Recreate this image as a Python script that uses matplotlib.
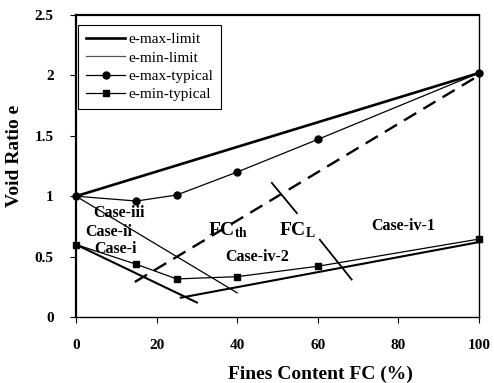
import matplotlib
matplotlib.use("Agg")
import matplotlib.pyplot as plt
from matplotlib.lines import Line2D

# ---- data ----
fc_typ = [0, 15, 25, 40, 60, 100]
emax_typ = [1.0, 0.96, 1.01, 1.20, 1.47, 2.02]
emin_typ = [0.60, 0.436, 0.315, 0.334, 0.42, 0.645]

fc_emax_limit = [0, 100]
emax_limit = [1.0, 2.02]

fc_emin_limit_iii = [0, 40]
emin_limit_iii = [1.0, 0.20]

fc_emin_limit_i = [0, 30]
emin_limit_i = [0.60, 0.12]

fc_emin_limit_iv = [26, 100]
emin_limit_iv = [0.16, 0.62]

fc_th_line = [14.6, 100]
e_th_line = [0.29, 2.0]

fc_cross1 = [48.6, 54.8]
e_cross1 = [1.11, 0.86]
fc_cross2 = [60.5, 68.4]
e_cross2 = [0.64, 0.31]

xticks = [0, 20, 40, 60, 80, 100]
yticks = [0, 0.5, 1, 1.5, 2, 2.5]
ytick_labels = ["0", "0.5", "1", "1.5", "2", "2.5"]

plt.rcParams['font.family'] = ['Liberation Serif', 'DejaVu Serif']
plt.rcParams['mathtext.fontset'] = 'custom'
plt.rcParams['mathtext.rm'] = 'Liberation Serif'
plt.rcParams['mathtext.bf'] = 'Liberation Serif:bold'
plt.rcParams['mathtext.it'] = 'Liberation Serif:italic'

fig = plt.figure(figsize=(4.94, 3.83), dpi=100)
ax = fig.add_axes([76/494, 1-317/383, (479-76)/494, (317-15)/383])

ax.plot(fc_emax_limit, emax_limit, color='black', lw=1.9, solid_capstyle='butt', clip_on=False)
ax.plot(fc_emin_limit_iii, emin_limit_iii, color='black', lw=0.9, clip_on=False)
ax.plot(fc_emin_limit_i, emin_limit_i, color='black', lw=1.5, clip_on=False)
ax.plot(fc_emin_limit_iv, emin_limit_iv, color='black', lw=1.5, clip_on=False)
ax.plot(fc_typ, emax_typ, color='black', lw=0.9, marker='o', ms=5, clip_on=False)
ax.plot(fc_typ, emin_typ, color='black', lw=0.9, marker='s', ms=4.5, clip_on=False)
ax.plot(fc_th_line, e_th_line, color='black', lw=1.7, dashes=(6, 3.5), clip_on=False)
ax.plot(fc_cross1, e_cross1, color='black', lw=1.3)
ax.plot(fc_cross2, e_cross2, color='black', lw=1.3)

tfont = dict(fontweight='bold', fontsize=11.5, ha='center', va='center')
ax.text(10.7, 0.86, 'Case-iii', **tfont)
ax.text(8.1, 0.70, 'Case-ii', **tfont)
ax.text(9.7, 0.56, 'Case-i', **tfont)
ax.text(45, 0.50, 'Case-iv-2', **tfont)
ax.text(81.3, 0.75, 'Case-iv-1', **tfont)
ax.text(37.8, 0.72, r'$\mathbf{FC_{th}}$', fontsize=14, ha='center', va='center')
ax.text(54.9, 0.72, r'$\mathbf{FC_{L}}$', fontsize=14, ha='center', va='center')

ax.set_xlim(0, 100)
ax.set_ylim(0, 2.5)
ax.set_xticks(xticks)
ax.set_yticks(yticks)
ax.set_yticklabels(ytick_labels)
ax.tick_params(direction='out', length=4, width=0.8)
ax.tick_params(axis='x', pad=12)
ax.tick_params(axis='y', pad=12)
for lab in ax.get_xticklabels() + ax.get_yticklabels():
    lab.set_fontweight('bold')
    lab.set_fontsize(11)

for s in ax.spines.values():
    s.set_linewidth(1.0)
ax.spines['left'].set_linewidth(1.6)
ax.spines['top'].set_linewidth(1.6)

ax.set_xlabel('Fines Content FC (%)', fontweight='bold', fontsize=14)
ax.set_ylabel('Void Ratio e', fontweight='bold', fontsize=14)
ax.xaxis.set_label_coords(0.607, -0.16)
ax.yaxis.set_label_coords(-0.131, 0.533)

handles = [
    Line2D([], [], color='black', lw=1.9),
    Line2D([], [], color='#555555', lw=0.9),
    Line2D([], [], color='black', lw=0.9, marker='o', ms=5),
    Line2D([], [], color='black', lw=0.9, marker='s', ms=4.5),
]
labels = ['e-max-limit', 'e-min-limit', 'e-max-typical', 'e-min-typical']
leg = ax.legend(handles, labels, loc='upper left', bbox_to_anchor=(0.005, 0.967),
                fontsize=11, fancybox=False, framealpha=1, edgecolor='black',
                handlelength=2.6, handletextpad=0.2, borderpad=0.5, labelspacing=0.3,
                borderaxespad=0)
leg.get_frame().set_linewidth(0.8)

fig.savefig('out.png', dpi=100)
